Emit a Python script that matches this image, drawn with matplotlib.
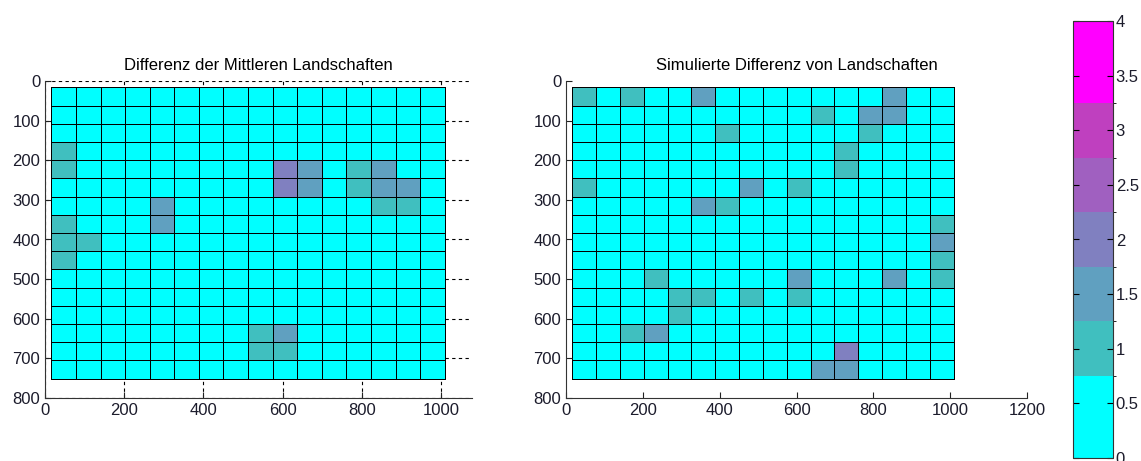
import numpy as np
from matplotlib import pyplot as plt
from matplotlib.colors import ListedColormap, BoundaryNorm

plt.rcParams['font.family'] = ['Liberation Sans', 'DejaVu Sans']

# %%
title_left = 'Differenz der Mittleren Landschaften'
title_right = 'Simulierte Differenz von Landschaften'

mean_diff = [
    [0, 0, 0, 0, 0, 0, 0, 0, 0, 0, 0, 0, 0, 0, 0, 0],
    [0, 0, 0, 0, 0, 0, 0, 0, 0, 0, 0, 0, 0, 0, 0, 0],
    [0, 0, 0, 0, 0, 0, 0, 0, 0, 0, 0, 0, 0, 0, 0, 0],
    [1, 0, 0, 0, 0, 0, 0, 0, 0, 0, 0, 0, 0, 0, 0, 0],
    [1, 0, 0, 0, 0, 0, 0, 0, 0, 2, 1.5, 0, 1, 1.5, 0, 0],
    [0, 0, 0, 0, 0, 0, 0, 0, 0, 2, 1.5, 0, 1, 1.5, 1.5, 0],
    [0, 0, 0, 0, 1.5, 0, 0, 0, 0, 0, 0, 0, 0, 1, 1, 0],
    [1, 0, 0, 0, 1.5, 0, 0, 0, 0, 0, 0, 0, 0, 0, 0, 0],
    [1, 1, 0, 0, 0, 0, 0, 0, 0, 0, 0, 0, 0, 0, 0, 0],
    [1, 0, 0, 0, 0, 0, 0, 0, 0, 0, 0, 0, 0, 0, 0, 0],
    [0, 0, 0, 0, 0, 0, 0, 0, 0, 0, 0, 0, 0, 0, 0, 0],
    [0, 0, 0, 0, 0, 0, 0, 0, 0, 0, 0, 0, 0, 0, 0, 0],
    [0, 0, 0, 0, 0, 0, 0, 0, 0, 0, 0, 0, 0, 0, 0, 0],
    [0, 0, 0, 0, 0, 0, 0, 0, 1, 1.5, 0, 0, 0, 0, 0, 0],
    [0, 0, 0, 0, 0, 0, 0, 0, 1, 1, 0, 0, 0, 0, 0, 0],
    [0, 0, 0, 0, 0, 0, 0, 0, 0, 0, 0, 0, 0, 0, 0, 0],
]

sim_diff = [
    [1, 0, 1, 0, 0, 1.5, 0, 0, 0, 0, 0, 0, 0, 1.5, 0, 0],
    [0, 0, 0, 0, 0, 0, 0, 0, 0, 0, 1, 0, 1.5, 1.5, 0, 0],
    [0, 0, 0, 0, 0, 0, 1, 0, 0, 0, 0, 0, 1, 0, 0, 0],
    [0, 0, 0, 0, 0, 0, 0, 0, 0, 0, 0, 1, 0, 0, 0, 0],
    [0, 0, 0, 0, 0, 0, 0, 0, 0, 0, 0, 1, 0, 0, 0, 0],
    [1, 0, 0, 0, 0, 0, 0, 1.5, 0, 1, 0, 0, 0, 0, 0, 0],
    [0, 0, 0, 0, 0, 1.5, 1, 0, 0, 0, 0, 0, 0, 0, 0, 0],
    [0, 0, 0, 0, 0, 0, 0, 0, 0, 0, 0, 0, 0, 0, 0, 1],
    [0, 0, 0, 0, 0, 0, 0, 0, 0, 0, 0, 0, 0, 0, 0, 1.5],
    [0, 0, 0, 0, 0, 0, 0, 0, 0, 0, 0, 0, 0, 0, 0, 1],
    [0, 0, 0, 1, 0, 0, 0, 0, 0, 1.5, 0, 0, 0, 1.5, 0, 1],
    [0, 0, 0, 0, 1, 1, 0, 1, 0, 1, 0, 0, 0, 0, 0, 0],
    [0, 0, 0, 0, 1, 0, 0, 0, 0, 0, 0, 0, 0, 0, 0, 0],
    [0, 0, 1, 1.5, 0, 0, 0, 0, 0, 0, 0, 0, 0, 0, 0, 0],
    [0, 0, 0, 0, 0, 0, 0, 0, 0, 0, 0, 2, 0, 0, 0, 0],
    [0, 0, 0, 0, 0, 0, 0, 0, 0, 0, 1.5, 1.5, 0, 0, 0, 0],
]

level_bounds = [0, 0.75, 1.25, 1.75, 2.25, 2.75, 3.25, 4]
level_colors = ['#00ffff', '#40bfbf', '#60a0c0', '#8080c0', '#a060c0', '#bf40bf', '#ff00ff']
cbar_ticks = [0, 0.5, 1, 1.5, 2, 2.5, 3, 3.5, 4]

# %%
cmap = ListedColormap(level_colors)
norm = BoundaryNorm(level_bounds, cmap.N)

x_edges = np.linspace(16, 1009, 17)
y_edges = np.linspace(16, 751, 17)

W, H = 1141, 461
fig = plt.figure(figsize=(W / 100, H / 100), dpi=100)


def px_axes(x0, x1, y0, y1):
    return fig.add_axes([x0 / W, (H - y1) / H, (x1 - x0) / W, (y1 - y0) / H])


def style(ax, xmax, xticks):
    ax.set_xlim(0, xmax)
    ax.set_ylim(800, 0)
    ax.set_xticks(xticks)
    ax.set_yticks(range(0, 801, 100))
    ax.tick_params(direction='in', length=4, labelsize=12, colors='#222222',
                   labelcolor='#1c1c2c', width=0.8)
    for s in ['top', 'right']:
        ax.spines[s].set_visible(False)
    for s in ['left', 'bottom']:
        ax.spines[s].set_color('#333333')


ax0 = px_axes(45, 472, 81, 398)
ax0.set_axisbelow(True)
ax0.grid(True, linestyle=(0, (3, 3)), color='black', linewidth=0.8)
ax0.pcolormesh(x_edges, y_edges, np.array(mean_diff), cmap=cmap, norm=norm,
               edgecolors='black', linewidth=0.7)
style(ax0, 1078, range(0, 1001, 200))
ax0.set_title(title_left, fontsize=12, pad=8)

ax1 = px_axes(566, 1027, 81, 398)
mesh = ax1.pcolormesh(x_edges, y_edges, np.array(sim_diff), cmap=cmap, norm=norm,
                      edgecolors='black', linewidth=0.7)
style(ax1, 1200, range(0, 1201, 200))
ax1.set_title(title_right, fontsize=12, pad=8)

cax = px_axes(1073, 1113, 21, 458)
cb = fig.colorbar(mesh, cax=cax, boundaries=level_bounds, spacing='proportional', ticks=cbar_ticks)
cb.ax.set_yticklabels([f'{t:g}' for t in cbar_ticks])
cb.ax.tick_params(direction='in', length=4, left=True, right=True, labelsize=12,
                  labelcolor='#1c1c2c', width=0.8, pad=2)
cb.outline.set_edgecolor('#333333')

fig.savefig('out.png', dpi=100)
